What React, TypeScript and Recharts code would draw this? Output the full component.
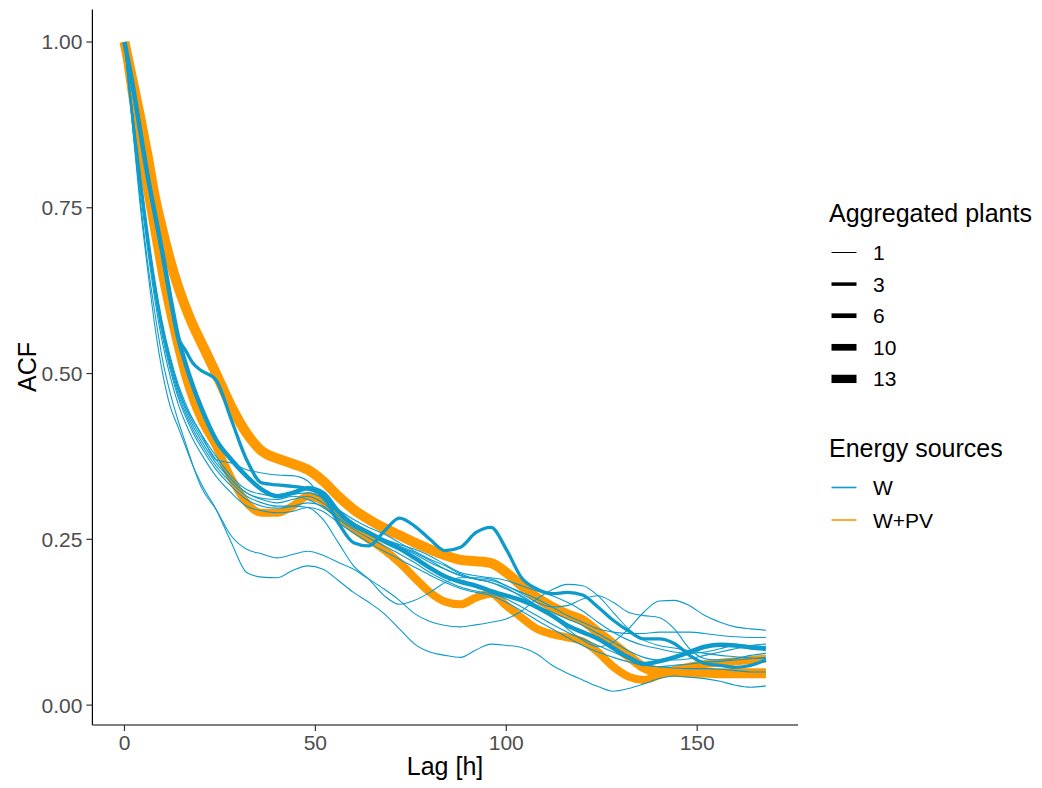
import React from 'react';
import { LineChart, Line, XAxis, YAxis } from 'recharts';

const BLUE = '#0E9BCB';
const ORANGE = '#FF9900';

// lags in hours: every 2h up to 20, then every 4h up to 168
const LAGS = [0, 2, 4, 6, 8, 10, 12, 14, 16, 18, 20,
  24, 28, 32, 36, 40, 44, 48, 52, 56, 60, 64, 68, 72, 76, 80, 84, 88, 92, 96, 100,
  104, 108, 112, 116, 120, 124, 128, 132, 136, 140, 144, 148, 152, 156, 160, 164, 168];

// W+PV, 13 plants
const O13 = [1, 0.945, 0.89, 0.83, 0.765, 0.715, 0.67, 0.632, 0.6, 0.572, 0.548,
  0.5, 0.45, 0.41, 0.383, 0.372, 0.364, 0.355, 0.338, 0.315, 0.295,
  0.28, 0.267, 0.256, 0.245, 0.235, 0.226, 0.219, 0.217, 0.214, 0.2,
  0.18, 0.162, 0.148, 0.137, 0.128, 0.11, 0.092, 0.074, 0.057, 0.05,
  0.05, 0.049, 0.049, 0.048, 0.048, 0.048, 0.048];
// W+PV, 10 plants
const O10 = [1, 0.92, 0.845, 0.775, 0.71, 0.645, 0.59, 0.54, 0.495, 0.46, 0.432,
  0.39, 0.342, 0.305, 0.29, 0.29, 0.3, 0.315, 0.307, 0.285, 0.265,
  0.25, 0.234, 0.215, 0.192, 0.17, 0.156, 0.152, 0.162, 0.168, 0.15,
  0.132, 0.115, 0.107, 0.102, 0.096, 0.08, 0.058, 0.043, 0.038, 0.045,
  0.053, 0.058, 0.062, 0.064, 0.066, 0.068, 0.07];
// W, 6 plants
const W6 = [1, 0.94, 0.87, 0.8, 0.74, 0.68, 0.615, 0.556, 0.515, 0.48, 0.45,
  0.4, 0.37, 0.345, 0.325, 0.315, 0.32, 0.327, 0.32, 0.292, 0.272,
  0.26, 0.247, 0.236, 0.222, 0.207, 0.194, 0.186, 0.18, 0.172, 0.165,
  0.158, 0.148, 0.135, 0.12, 0.11, 0.1, 0.086, 0.072, 0.062, 0.066,
  0.072, 0.08, 0.088, 0.091, 0.09, 0.087, 0.085];
// W, 3 plants
const W3 = [1, 0.94, 0.87, 0.8, 0.74, 0.68, 0.615, 0.556, 0.535, 0.515, 0.505,
  0.49, 0.43, 0.37, 0.335, 0.332, 0.33, 0.326, 0.315, 0.275, 0.245,
  0.24, 0.262, 0.282, 0.27, 0.25, 0.233, 0.238, 0.26, 0.268, 0.235,
  0.192, 0.175, 0.168, 0.17, 0.166, 0.148, 0.128, 0.112, 0.1, 0.1,
  0.093, 0.075, 0.063, 0.06, 0.057, 0.06, 0.068];
// W, single plants
const W1_A = [1, 0.88, 0.76, 0.66, 0.57, 0.5, 0.45, 0.42, 0.39, 0.36, 0.335,
  0.295, 0.245, 0.2, 0.193, 0.192, 0.203, 0.21, 0.205, 0.188, 0.17,
  0.155, 0.138, 0.115, 0.092, 0.08, 0.075, 0.072, 0.083, 0.092, 0.09,
  0.087, 0.077, 0.06, 0.048, 0.038, 0.028, 0.021, 0.025, 0.032, 0.04,
  0.044, 0.042, 0.04, 0.036, 0.03, 0.027, 0.029];
const W1_B = [1, 0.88, 0.77, 0.67, 0.59, 0.52, 0.47, 0.43, 0.395, 0.36, 0.33,
  0.295, 0.255, 0.235, 0.228, 0.222, 0.227, 0.232, 0.226, 0.215, 0.205,
  0.19, 0.175, 0.158, 0.138, 0.126, 0.12, 0.118, 0.121, 0.125, 0.13,
  0.142, 0.16, 0.174, 0.182, 0.18, 0.165, 0.14, 0.115, 0.098, 0.09,
  0.086, 0.082, 0.078, 0.075, 0.073, 0.071, 0.07];
const W1_C = [1, 0.9, 0.8, 0.71, 0.63, 0.57, 0.52, 0.48, 0.45, 0.43, 0.41,
  0.37, 0.365, 0.355, 0.35, 0.347, 0.346, 0.338, 0.31, 0.29, 0.275,
  0.262, 0.25, 0.238, 0.228, 0.215, 0.205, 0.196, 0.19, 0.185, 0.175,
  0.165, 0.15, 0.135, 0.115, 0.098, 0.088, 0.095, 0.115, 0.14, 0.157,
  0.158, 0.15, 0.135, 0.125, 0.118, 0.115, 0.113];
const W1_D = [1, 0.89, 0.79, 0.7, 0.62, 0.56, 0.51, 0.47, 0.44, 0.415, 0.395,
  0.36, 0.335, 0.315, 0.305, 0.3, 0.3, 0.298, 0.28, 0.245, 0.21,
  0.19, 0.165, 0.152, 0.158, 0.17, 0.185, 0.192, 0.192, 0.19, 0.18,
  0.17, 0.16, 0.148, 0.135, 0.125, 0.115, 0.11, 0.108, 0.108, 0.11,
  0.11, 0.11, 0.108, 0.105, 0.103, 0.102, 0.102];
const W1_E = [1, 0.9, 0.8, 0.71, 0.63, 0.565, 0.515, 0.475, 0.445, 0.42, 0.4,
  0.365, 0.34, 0.32, 0.31, 0.305, 0.31, 0.315, 0.305, 0.285, 0.27,
  0.26, 0.25, 0.24, 0.23, 0.218, 0.205, 0.195, 0.19, 0.188, 0.18,
  0.168, 0.155, 0.148, 0.15, 0.16, 0.165, 0.155, 0.14, 0.135, 0.132,
  0.115, 0.085, 0.07, 0.068, 0.07, 0.075, 0.078];
const W1_F = [1, 0.89, 0.79, 0.7, 0.62, 0.555, 0.505, 0.465, 0.435, 0.41, 0.39,
  0.355, 0.33, 0.31, 0.3, 0.297, 0.3, 0.305, 0.3, 0.28, 0.265,
  0.252, 0.24, 0.228, 0.215, 0.2, 0.188, 0.178, 0.172, 0.168, 0.16,
  0.148, 0.135, 0.122, 0.11, 0.1, 0.09, 0.08, 0.07, 0.062, 0.058,
  0.06, 0.062, 0.065, 0.066, 0.068, 0.07, 0.072];
const W1_G = [1, 0.9, 0.81, 0.72, 0.64, 0.575, 0.525, 0.485, 0.455, 0.43, 0.41,
  0.375, 0.345, 0.325, 0.318, 0.315, 0.318, 0.32, 0.312, 0.295, 0.28,
  0.268, 0.258, 0.245, 0.232, 0.22, 0.21, 0.198, 0.19, 0.185, 0.177,
  0.163, 0.15, 0.14, 0.13, 0.12, 0.108, 0.095, 0.082, 0.072, 0.068,
  0.068, 0.07, 0.075, 0.08, 0.085, 0.09, 0.092];
const W1_H = [1, 0.88, 0.78, 0.69, 0.61, 0.545, 0.495, 0.455, 0.425, 0.4, 0.38,
  0.345, 0.32, 0.3, 0.293, 0.29, 0.292, 0.298, 0.292, 0.275, 0.26,
  0.245, 0.232, 0.22, 0.208, 0.196, 0.185, 0.176, 0.17, 0.165, 0.155,
  0.142, 0.128, 0.115, 0.102, 0.09, 0.08, 0.072, 0.065, 0.06, 0.058,
  0.056, 0.055, 0.055, 0.054, 0.052, 0.05, 0.05];
const W1_I = [1, 0.9, 0.8, 0.71, 0.635, 0.57, 0.52, 0.48, 0.45, 0.425, 0.405,
  0.37, 0.34, 0.32, 0.312, 0.31, 0.315, 0.31, 0.298, 0.282, 0.268,
  0.258, 0.25, 0.242, 0.235, 0.225, 0.212, 0.2, 0.195, 0.192, 0.188,
  0.18, 0.172, 0.165, 0.155, 0.142, 0.125, 0.11, 0.098, 0.09, 0.085,
  0.08, 0.078, 0.08, 0.085, 0.09, 0.09, 0.088];

const SERIES = [
  { key: 'o13', values: O13, color: ORANGE, width: 10 },
  { key: 'o10', values: O10, color: ORANGE, width: 8 },
  { key: 'w1a', values: W1_A, color: BLUE, width: 1.1 },
  { key: 'w1b', values: W1_B, color: BLUE, width: 1.1 },
  { key: 'w1c', values: W1_C, color: BLUE, width: 1.1 },
  { key: 'w1d', values: W1_D, color: BLUE, width: 1.1 },
  { key: 'w1e', values: W1_E, color: BLUE, width: 1.1 },
  { key: 'w1f', values: W1_F, color: BLUE, width: 1.1 },
  { key: 'w1g', values: W1_G, color: BLUE, width: 1.1 },
  { key: 'w1h', values: W1_H, color: BLUE, width: 1.1 },
  { key: 'w1i', values: W1_I, color: BLUE, width: 1.1 },
  { key: 'w3', values: W3, color: BLUE, width: 3.3 },
  { key: 'w6', values: W6, color: BLUE, width: 4.5 },
];

const SIZE_KEYS = [
  { label: '1', width: 1 },
  { label: '3', width: 3.5 },
  { label: '6', width: 4.7 },
  { label: '10', width: 6.7 },
  { label: '13', width: 8.3 },
];
const SOURCE_KEYS = [
  { label: 'W', color: BLUE },
  { label: 'W+PV', color: ORANGE },
];

const data = LAGS.map((lag, i) => {
  const row: Record<string, number> = { lag };
  SERIES.forEach(s => { row[s.key] = s.values[i]; });
  return row;
});

const FONT = '"Liberation Sans", Arial, sans-serif';

const LegendBox = () => (
  <svg width={230} height={360} style={{ position: 'absolute', left: 810, top: 180 }}>
    <g fontFamily={FONT}>
      <text x={19} y={42} fontSize={25} fill="#000">Aggregated plants</text>
      {SIZE_KEYS.map((k, i) => {
        const cy = 72.5 + i * 31.6;
        return (
          <g key={k.label}>
            <line x1={21.5} x2={46.5} y1={cy} y2={cy} stroke="#000" strokeWidth={k.width} />
            <text x={63} y={cy + 7.5} fontSize={21} fill="#000">{k.label}</text>
          </g>
        );
      })}
      <text x={19} y={277} fontSize={25} fill="#000">Energy sources</text>
      {SOURCE_KEYS.map((k, i) => {
        const cy = 307.5 + i * 32.5;
        return (
          <g key={k.label}>
            <line x1={21.5} x2={46.5} y1={cy} y2={cy} stroke={k.color} strokeWidth={1.6} />
            <text x={63} y={cy + 7.5} fontSize={21} fill="#000">{k.label}</text>
          </g>
        );
      })}
    </g>
  </svg>
);

export default function App() {
  return (
    <div style={{ position: 'absolute', left: 0, top: 0, width: 1042, height: 788, background: '#fff', fontFamily: FONT }}>
      <LineChart width={1042} height={788} data={data} margin={{ top: 9.5, right: 244, bottom: 23, left: 32.4 }}>
        <XAxis
          type="number"
          dataKey="lag"
          domain={[-8.4, 176.4]}
          allowDataOverflow
          ticks={[0, 50, 100, 150]}
          height={40}
          tickSize={6}
          tickMargin={4}
          axisLine={{ stroke: '#000', strokeWidth: 1.2 }}
          tickLine={{ stroke: '#333', strokeWidth: 1.2 }}
          tick={{ fill: '#4D4D4D', fontSize: 21, fontFamily: FONT }}
        />
        <YAxis
          type="number"
          domain={[-0.03, 1.049]}
          allowDataOverflow
          ticks={[0, 0.25, 0.5, 0.75, 1]}
          tickFormatter={(v: number) => v.toFixed(2)}
          width={60}
          tickSize={6}
          tickMargin={4}
          axisLine={{ stroke: '#000', strokeWidth: 1.2 }}
          tickLine={{ stroke: '#333', strokeWidth: 1.2 }}
          tick={{ fill: '#4D4D4D', fontSize: 21, fontFamily: FONT }}
        />
        {SERIES.map(s => (
          <Line
            key={s.key}
            dataKey={s.key}
            type="monotone"
            stroke={s.color}
            strokeWidth={s.width}
            strokeLinejoin="round"
            dot={false}
            activeDot={false}
            isAnimationActive={false}
          />
        ))}
      </LineChart>
      <div style={{ position: 'absolute', left: 445, top: 754, transform: 'translateX(-50%)', fontSize: 25, color: '#000', whiteSpace: 'nowrap', lineHeight: 1 }}>
        Lag [h]
      </div>
      <div style={{ position: 'absolute', left: 27, top: 367, transform: 'translate(-50%, -50%) rotate(-90deg)', fontSize: 25, color: '#000', whiteSpace: 'nowrap', lineHeight: 1 }}>
        ACF
      </div>
      <LegendBox />
    </div>
  );
}
